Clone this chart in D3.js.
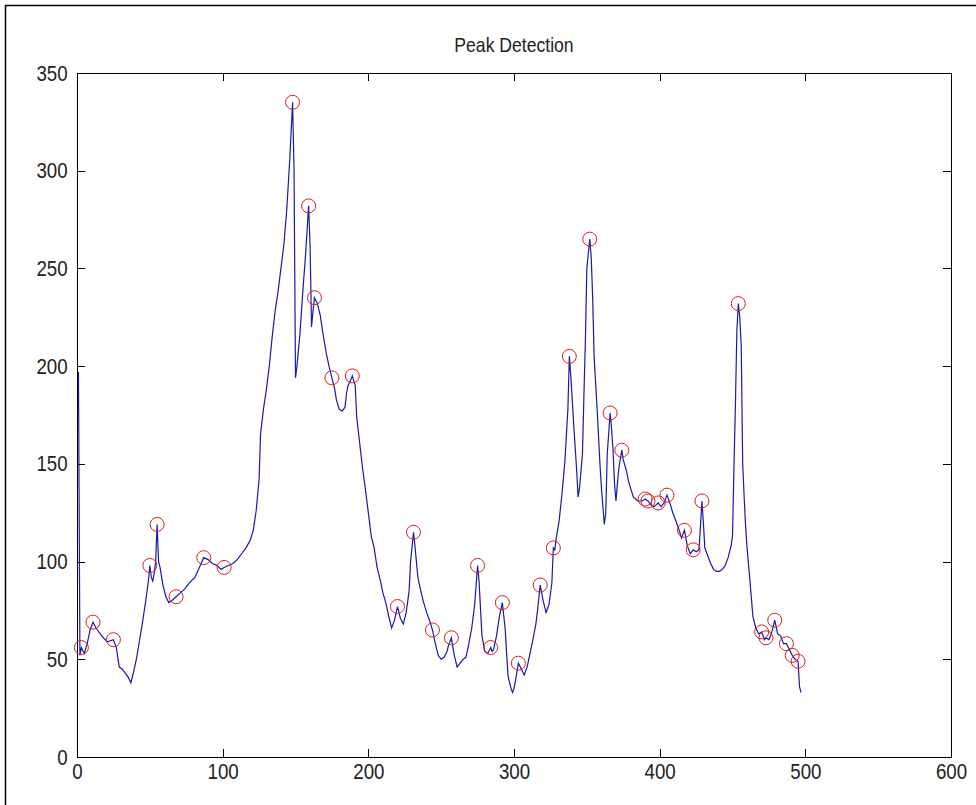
<!DOCTYPE html>
<html>
<head>
<meta charset="utf-8">
<script src="https://cdn.jsdelivr.net/npm/d3@7"></script>
<style>
  html, body { margin: 0; padding: 0; background: #fff; }
  svg { display: block; }
  .axis text { font-family: "Liberation Sans", Arial, sans-serif; font-size: 22px; fill: #222; }
  .axis path, .axis line { stroke: #000; shape-rendering: crispEdges; }
  .title { font-family: "Liberation Sans", Arial, sans-serif; font-size: 20px; fill: #222; }
</style>
</head>
<body>
<script>
// Signal samples (x index, amplitude)
const sampleX = [1,2,3,5,7,9,11,13,16,18,21,25,27,29,31,33,35,37,39,41,43,45,47,49,50,51,52,53,54,55,56,57,59,61,63,65,68,71,74,77,81,84,87,90,93,96,99,101,104,107,110,113,116,119,121,123,125,126,128,130,132,134,136,138,140,142,144,146,147,148,149,150,151,153,155,157,159,160,161,162,163,165,167,169,171,173,175,177,178,180,182,184,185,186,188,189,191,192,194,196,198,200,202,204,206,208,210,212,214,216,218,220,222,224,226,228,229,231,232,234,236,238,240,242,244,246,248,250,252,254,255,257,259,261,263,265,267,269,271,273,275,276,277,278,280,282,284,285,286,288,290,292,293,294,295,296,298,299,300,301,303,305,307,309,311,313,315,316,318,320,322,324,326,327,328,329,331,333,335,337,338,339,341,343,344,345,347,348,349,350,352,353,354,355,357,359,360,362,363,364,366,367,368,369,370,371,372,374,375,377,379,382,385,388,390,392,394,396,399,401,403,405,407,409,411,413,415,417,419,421,423,425,427,428,429,430,431,433,435,437,439,441,443,445,447,449,450,451,452,453,454,455,456,457,458,459,460,462,464,466,468,470,472,473,475,477,479,481,483,485,487,489,491,493,495,496,497];
const sampleY = [197,52,56,53,58,65,69,66,63,61,59,60,56,46,45,43,41,38,44,51,60,69,79,90,98,92,90,94,100,119,100,97,88,82,79,80,82,84,86,89,92,97,102,101,99,98,96,97,98,99,101,104,107,111,116,126,142,165,178,188,200,215,228,238,250,262,280,305,320,335,300,194,200,216,238,258,282,262,220,228,235,232,226,216,207,200,194,188,183,178,177,179,186,190,193,195,190,174,161,148,137,125,113,107,97,91,84,79,72,66,70,77,71,68,74,85,100,115,108,92,85,79,74,70,65,58,52,50,51,54,57,61,52,46,48,50,51,58,66,78,98,90,76,62,54,53,56,54,55,62,72,79,72,65,52,41,35,33,35,39,48,45,42,46,53,60,68,74,88,80,74,78,89,107,106,112,121,135,152,178,205,195,170,147,133,138,155,185,213,250,265,256,235,205,179,150,138,119,125,155,176,168,157,140,131,140,148,157,152,147,140,133,131,131,132,131,129,128,130,128,130,134,130,125,121,117,112,116,108,104,106,105,106,118,131,120,107,103,99,96,95,95,96,98,102,108,113,148,180,218,232,225,210,150,133,118,107,90,72,66,63,64,60,61,60,64,70,63,62,58,58,55,52,50,49,36,33];

// Detected peaks
const peakX = [3,11,25,50,55,68,87,101,148,159,163,175,189,220,231,244,257,275,284,292,303,318,327,338,352,366,374,390,392,399,405,417,423,429,454,470,473,479,487,491,495];
const peakY = [56,69,60,98,119,82,102,97,335,282,235,194,195,77,115,65,61,98,56,79,48,88,107,205,265,176,157,132,131,130,134,116,106,131,232,64,61,70,58,52,49];

const xTicks = [0,100,200,300,400,500,600];
const yTicks = [0,50,100,150,200,250,300,350];
const titleText = "Peak Detection";

const W = 976, H = 805;
const plotL = 77, plotR = 951, plotT = 73, plotB = 757;

const svg = d3.select("body").append("svg").attr("width", W).attr("height", H);

// figure frame
svg.append("path")
  .attr("d", `M5.5,${H} V5.5 H${W}`)
  .attr("fill", "none").attr("stroke", "#000").attr("stroke-width", 1.5);

const x = d3.scaleLinear().domain([0, 600]).range([plotL, plotR]);
const y = d3.scaleLinear().domain([0, 350]).range([plotB, plotT]);

const tick = 8;
const narrow = "scale(0.85,1)";

svg.append("g").attr("class", "axis")
  .attr("transform", `translate(0,${plotB})`)
  .call(d3.axisBottom(x).tickValues(xTicks).tickFormat(d3.format("d")).tickSizeInner(-tick).tickSizeOuter(0).tickPadding(6))
  .selectAll("text").attr("transform", narrow);

svg.append("g").attr("class", "axis")
  .attr("transform", `translate(0,${plotT})`)
  .call(d3.axisTop(x).tickValues(xTicks).tickFormat("").tickSizeInner(-tick).tickSizeOuter(0));

svg.append("g").attr("class", "axis")
  .attr("transform", `translate(${plotL},0)`)
  .call(d3.axisLeft(y).tickValues(yTicks).tickFormat(d3.format("d")).tickSizeInner(-tick).tickSizeOuter(0).tickPadding(11))
  .selectAll("text").attr("transform", narrow);

svg.append("g").attr("class", "axis")
  .attr("transform", `translate(${plotR},0)`)
  .call(d3.axisRight(y).tickValues(yTicks).tickFormat("").tickSizeInner(-tick).tickSizeOuter(0));

// signal trace
const pts = sampleX.map((d, i) => [d, sampleY[i]]);
svg.append("path")
  .datum(pts)
  .attr("fill", "none")
  .attr("stroke", "#1a1aa8")
  .attr("stroke-width", 1.2)
  .attr("d", d3.line().x(d => x(d[0])).y(d => y(d[1])));

// peak markers
svg.append("g").selectAll("circle")
  .data(peakX.map((d, i) => [d, peakY[i]]))
  .join("circle")
  .attr("cx", d => x(d[0]))
  .attr("cy", d => y(d[1]))
  .attr("r", 7)
  .attr("fill", "none")
  .attr("stroke", "#d42020")
  .attr("stroke-width", 1);

const cx = (plotL + plotR) / 2;
svg.append("text").attr("class", "title")
  .attr("transform", `translate(${cx},52) scale(0.88,1)`)
  .attr("text-anchor", "middle")
  .text(titleText);
</script>
</body>
</html>
